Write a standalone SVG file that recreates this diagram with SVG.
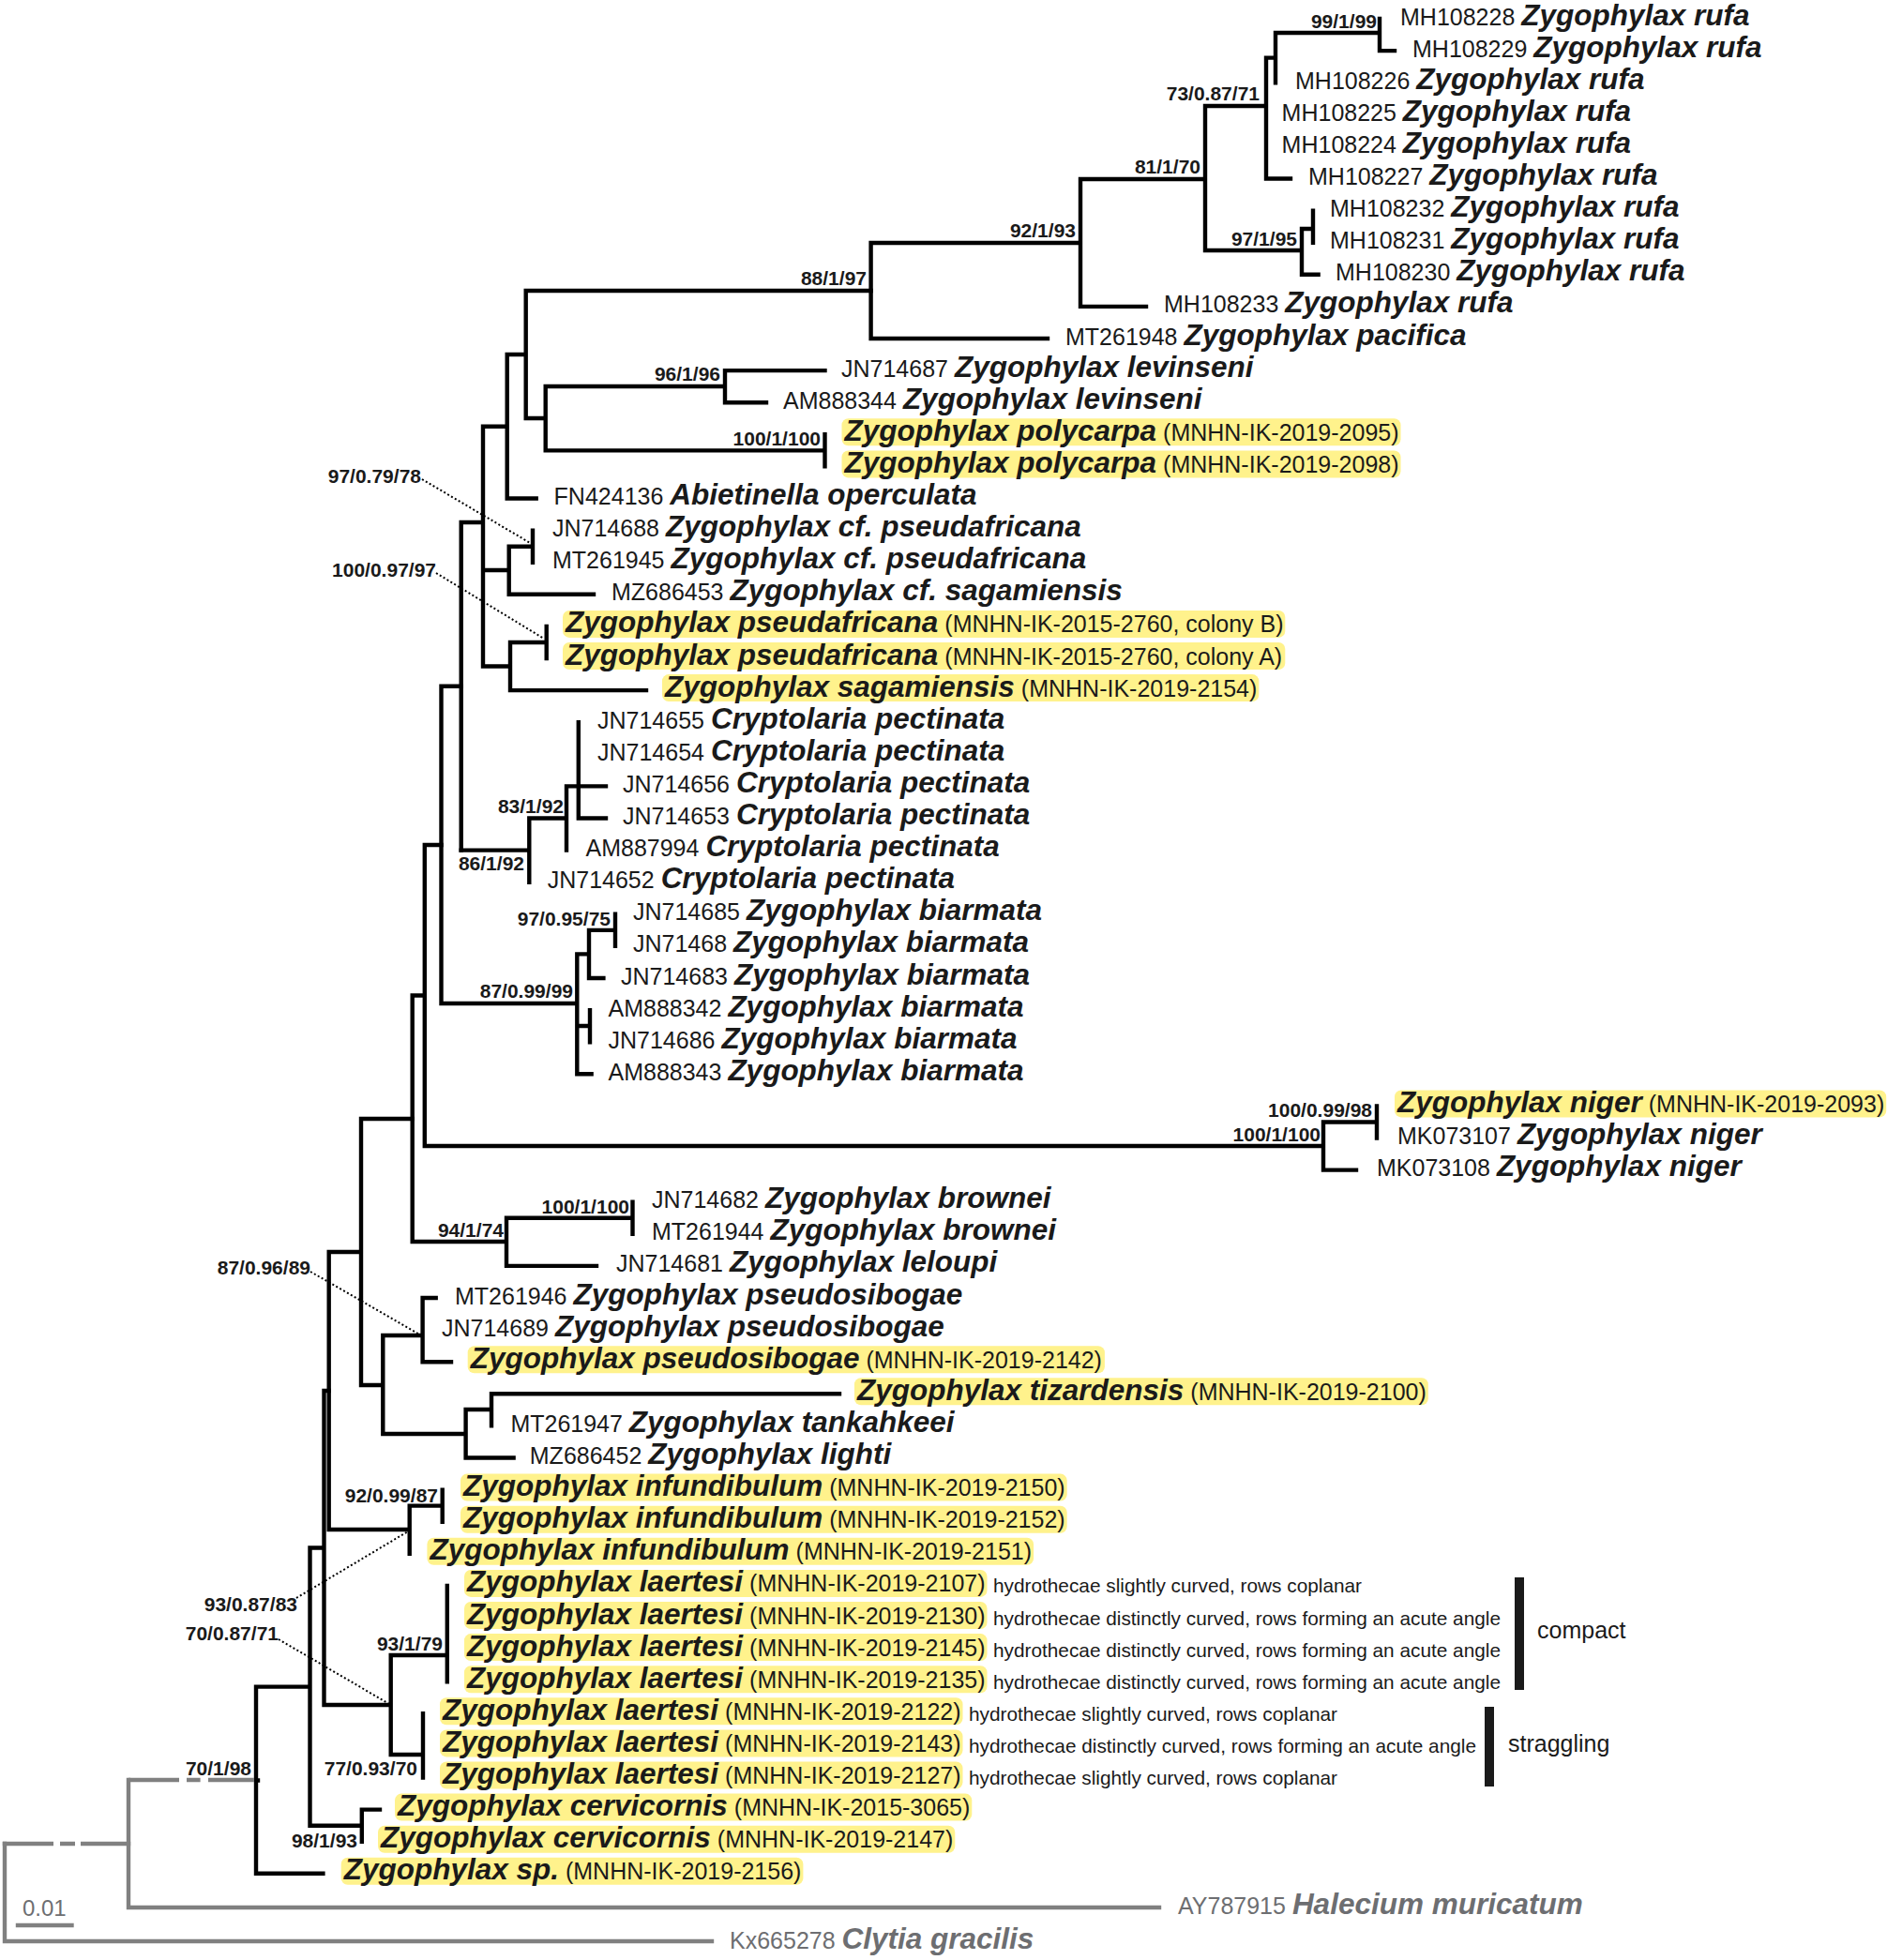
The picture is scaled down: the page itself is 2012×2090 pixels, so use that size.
<svg xmlns="http://www.w3.org/2000/svg" width="2012" height="2090" viewBox="0 0 2012 2090">
<style>
text{font-family:"Liberation Sans",Arial,sans-serif;fill:#1a1a1a}
.n{font-size:25px}
.s{font-size:31.5px;font-weight:bold;font-style:italic}
.b{font-size:21px;font-weight:bold;text-anchor:end}
.d{font-size:20.8px}
.gy{fill:#6d6e71}
.hl{fill:#fff28c}
.br{fill:none;stroke:#000;stroke-width:4.4;stroke-linecap:square}
.gr{fill:none;stroke:#808080;stroke-width:4.4;stroke-linecap:square}
.grd{fill:none;stroke:#808080;stroke-width:4.4;stroke-linecap:butt}
.dot{fill:none;stroke:#000;stroke-width:2;stroke-dasharray:2 2.5}
.bar{fill:#1a1a1a}
</style>
<rect width="2012" height="2090" fill="#fff"/>
<g id="connectors">
<path class="br" d="M1360 35H1471M1471 20V54.1M1471 54.1H1487M1360 35V88.2M1350 61.6H1360M1350 61.6V190.5M1350 190.5H1376M1285 113H1350M1285 113V267M1285 267H1388M1388 244V292.8M1388 244H1400M1400 224.6V258.7M1388 292.8H1405.6M1152 191H1285M1152 191V326.9M1152 326.9H1222M928.6 259H1152M928.6 259V361M928.6 361H1117"/>
<path class="br" d="M560.7 310H928.6M560.7 310V446M560.7 446H581.7M581.7 412V480.4M581.7 412H773M773 395.1V429.2M773 395.1H879.5M773 429.2H817M581.7 480.4H879.5M879.5 463.3V497.4M540.7 378H560.7M540.7 378V531.5M540.7 531.5H571.7M515 454.7H540.7M515 454.7V710.5M515 608H542.7M542.7 582.7V633.8M542.7 582.7H568M568 565.6V599.7M542.7 633.8H633M515 710.5H544M544 685V736.1M544 685H582.7M582.7 667.9V702M544 736.1H689M491.7 557H515M491.7 557V906.6"/>
<path class="br" d="M491.7 906.6H564.3M564.3 872.5V940.7M564.3 872.5H604M604 838.4V906.6M604 838.4H646M616.8 770.2V872.5M616.8 872.5H646M470.5 731.8H491.7M470.5 731.8V1070M470.5 1070H615.3M615.3 1017.4V1145.3M615.3 1017.4H628M628 991.9V1043M628 991.9H656M656 974.8V1008.9M628 1043H643.4M615.3 1094H629M629 1077.1V1111.2M615.3 1145.3H630.6"/>
<path class="br" d="M452.8 901H470.5M452.8 901V1222M452.8 1222H1411M1411 1196.5V1247.6M1411 1196.5H1468M1468 1179.4V1213.5M1411 1247.6H1446M439.7 1061.5H452.8M439.7 1061.5V1324M439.7 1324H540M540 1298.8V1349.9M540 1298.8H674.5M674.5 1281.7V1315.8M540 1349.9H636"/>
<path class="br" d="M385 1193H439.7M385 1193V1477M385 1477H408.3M408.3 1424V1529M408.3 1424H450.6M450.6 1384V1452.2M450.6 1384H464.7M450.6 1452.2H481M408.3 1529H496.6M496.6 1503V1554.5M496.6 1503H524M524 1486.3V1520.4M524 1486.3H895M496.6 1554.5H547.6M350.7 1335H385M350.7 1335V1631M350.7 1631H436.7M436.7 1605.6V1656.8M436.7 1605.6H471.7M471.7 1588.6V1622.7"/>
<path class="br" d="M345.5 1483H350.7M345.5 1483V1818M345.5 1818H416.7M416.7 1765V1871M416.7 1765H476.8M476.8 1690.9V1793.2M416.7 1871H451M451 1827.3V1895.5M330.5 1650.5H345.5M330.5 1650.5V1946.7M330.5 1946.7H385.8M385.8 1929.6V1963.7M385.8 1929.6H405M273 1898.5H275M273 1798.6H330.5M273 1798.6V1997.8M273 1997.8H344.4"/>
<path class="gr" d="M137 1898V2034M137 2034H1236M5 1966V2070M5 2070H759M19 2053H76.5"/>
<path class="grd" d="M137 1898H191M199 1898H213.6M222 1898H271M2.8 1966H57M64 1966H80M86 1966H139.2"/>
<path class="dot" d="M450 511L567 580M465 611L580 681M331 1356L449 1424M316 1704L435 1633M297 1748L416.7 1818"/>
</g>
<g id="support">
<text class="b" x="1468" y="30">99/1/99</text>
<text class="b" x="1343" y="107">73/0.87/71</text>
<text class="b" x="1280" y="185">81/1/70</text>
<text class="b" x="1383" y="262">97/1/95</text>
<text class="b" x="1147" y="253">92/1/93</text>
<text class="b" x="924" y="304">88/1/97</text>
<text class="b" x="768" y="406">96/1/96</text>
<text class="b" x="875" y="475">100/1/100</text>
<text class="b" x="449" y="515">97/0.79/78</text>
<text class="b" x="465" y="615">100/0.97/97</text>
<text class="b" x="601" y="867">83/1/92</text>
<text class="b" x="559" y="928">86/1/92</text>
<text class="b" x="651" y="987">97/0.95/75</text>
<text class="b" x="611" y="1064">87/0.99/99</text>
<text class="b" x="1463" y="1191">100/0.99/98</text>
<text class="b" x="1408" y="1217">100/1/100</text>
<text class="b" x="671" y="1294">100/1/100</text>
<text class="b" x="537" y="1319">94/1/74</text>
<text class="b" x="331" y="1359">87/0.96/89</text>
<text class="b" x="467" y="1602">92/0.99/87</text>
<text class="b" x="317" y="1718">93/0.87/83</text>
<text class="b" x="297" y="1749">70/0.87/71</text>
<text class="b" x="472" y="1760">93/1/79</text>
<text class="b" x="445" y="1893">77/0.93/70</text>
<text class="b" x="381" y="1970">98/1/93</text>
<text class="b" x="268" y="1893">70/1/98</text>
</g>
<g id="n-MH108228"><text class="n" x="1493" y="26.5">MH108228 <tspan class="s">Zygophylax rufa</tspan></text></g>
<g id="n-MH108229"><text class="n" x="1506" y="60.6">MH108229 <tspan class="s">Zygophylax rufa</tspan></text></g>
<g id="n-MH108226"><text class="n" x="1381" y="94.7">MH108226 <tspan class="s">Zygophylax rufa</tspan></text></g>
<g id="n-MH108225"><text class="n" x="1366.6" y="128.8">MH108225 <tspan class="s">Zygophylax rufa</tspan></text></g>
<g id="n-MH108224"><text class="n" x="1366.6" y="162.9">MH108224 <tspan class="s">Zygophylax rufa</tspan></text></g>
<g id="n-MH108227"><text class="n" x="1395" y="197">MH108227 <tspan class="s">Zygophylax rufa</tspan></text></g>
<g id="n-MH108232"><text class="n" x="1418" y="231.1">MH108232 <tspan class="s">Zygophylax rufa</tspan></text></g>
<g id="n-MH108231"><text class="n" x="1418" y="265.2">MH108231 <tspan class="s">Zygophylax rufa</tspan></text></g>
<g id="n-MH108230"><text class="n" x="1424" y="299.3">MH108230 <tspan class="s">Zygophylax rufa</tspan></text></g>
<g id="n-MH108233"><text class="n" x="1241" y="333.4">MH108233 <tspan class="s">Zygophylax rufa</tspan></text></g>
<g id="n-MT261948"><text class="n" x="1136" y="367.5">MT261948 <tspan class="s">Zygophylax pacifica</tspan></text></g>
<g id="n-JN714687"><text class="n" x="897" y="401.6">JN714687 <tspan class="s">Zygophylax levinseni</tspan></text></g>
<g id="n-AM888344"><text class="n" x="835" y="435.7">AM888344 <tspan class="s">Zygophylax levinseni</tspan></text></g>
<g id="n-polycarpa-2095"><rect class="hl" x="897.5" y="446.3" width="596" height="29" rx="7"/><text class="n" x="900.5" y="469.8"><tspan class="s">Zygophylax polycarpa</tspan> (MNHN-IK-2019-2095)</text></g>
<g id="n-polycarpa-2098"><rect class="hl" x="897.5" y="480.4" width="596" height="29" rx="7"/><text class="n" x="900.5" y="503.9"><tspan class="s">Zygophylax polycarpa</tspan> (MNHN-IK-2019-2098)</text></g>
<g id="n-FN424136"><text class="n" x="590.6" y="538">FN424136 <tspan class="s">Abietinella operculata</tspan></text></g>
<g id="n-JN714688"><text class="n" x="589" y="572.1">JN714688 <tspan class="s">Zygophylax cf. pseudafricana</tspan></text></g>
<g id="n-MT261945"><text class="n" x="589" y="606.2">MT261945 <tspan class="s">Zygophylax cf. pseudafricana</tspan></text></g>
<g id="n-MZ686453"><text class="n" x="652" y="640.3">MZ686453 <tspan class="s">Zygophylax cf. sagamiensis</tspan></text></g>
<g id="n-pseudafricana-B"><rect class="hl" x="600" y="650.9" width="770.3" height="29" rx="7"/><text class="n" x="603" y="674.4"><tspan class="s">Zygophylax pseudafricana</tspan> (MNHN-IK-2015-2760, colony B)</text></g>
<g id="n-pseudafricana-A"><rect class="hl" x="600" y="685" width="770.3" height="29" rx="7"/><text class="n" x="603" y="708.5"><tspan class="s">Zygophylax pseudafricana</tspan> (MNHN-IK-2015-2760, colony A)</text></g>
<g id="n-sagamiensis-2154"><rect class="hl" x="706" y="719.1" width="636.3" height="29" rx="7"/><text class="n" x="709" y="742.6"><tspan class="s">Zygophylax sagamiensis</tspan> (MNHN-IK-2019-2154)</text></g>
<g id="n-JN714655"><text class="n" x="637" y="776.7">JN714655 <tspan class="s">Cryptolaria pectinata</tspan></text></g>
<g id="n-JN714654"><text class="n" x="637" y="810.8">JN714654 <tspan class="s">Cryptolaria pectinata</tspan></text></g>
<g id="n-JN714656"><text class="n" x="664" y="844.9">JN714656 <tspan class="s">Cryptolaria pectinata</tspan></text></g>
<g id="n-JN714653"><text class="n" x="664" y="879">JN714653 <tspan class="s">Cryptolaria pectinata</tspan></text></g>
<g id="n-AM887994"><text class="n" x="624.5" y="913.1">AM887994 <tspan class="s">Cryptolaria pectinata</tspan></text></g>
<g id="n-JN714652"><text class="n" x="583.7" y="947.2">JN714652 <tspan class="s">Cryptolaria pectinata</tspan></text></g>
<g id="n-JN714685"><text class="n" x="675" y="981.3">JN714685 <tspan class="s">Zygophylax biarmata</tspan></text></g>
<g id="n-JN71468"><text class="n" x="675" y="1015.4">JN71468 <tspan class="s">Zygophylax biarmata</tspan></text></g>
<g id="n-JN714683"><text class="n" x="662" y="1049.5">JN714683 <tspan class="s">Zygophylax biarmata</tspan></text></g>
<g id="n-AM888342"><text class="n" x="648.5" y="1083.6">AM888342 <tspan class="s">Zygophylax biarmata</tspan></text></g>
<g id="n-JN714686"><text class="n" x="648.5" y="1117.7">JN714686 <tspan class="s">Zygophylax biarmata</tspan></text></g>
<g id="n-AM888343"><text class="n" x="648.5" y="1151.8">AM888343 <tspan class="s">Zygophylax biarmata</tspan></text></g>
<g id="n-niger-2093"><rect class="hl" x="1487" y="1162.4" width="524.2" height="29" rx="7"/><text class="n" x="1490" y="1185.9"><tspan class="s">Zygophylax niger</tspan> (MNHN-IK-2019-2093)</text></g>
<g id="n-MK073107"><text class="n" x="1490" y="1220">MK073107 <tspan class="s">Zygophylax niger</tspan></text></g>
<g id="n-MK073108"><text class="n" x="1468" y="1254.1">MK073108 <tspan class="s">Zygophylax niger</tspan></text></g>
<g id="n-JN714682"><text class="n" x="695" y="1288.2">JN714682 <tspan class="s">Zygophylax brownei</tspan></text></g>
<g id="n-MT261944"><text class="n" x="695" y="1322.3">MT261944 <tspan class="s">Zygophylax brownei</tspan></text></g>
<g id="n-JN714681"><text class="n" x="657" y="1356.4">JN714681 <tspan class="s">Zygophylax leloupi</tspan></text></g>
<g id="n-MT261946"><text class="n" x="485" y="1390.5">MT261946 <tspan class="s">Zygophylax pseudosibogae</tspan></text></g>
<g id="n-JN714689"><text class="n" x="471" y="1424.6">JN714689 <tspan class="s">Zygophylax pseudosibogae</tspan></text></g>
<g id="n-pseudosibogae-2142"><rect class="hl" x="498.7" y="1435.2" width="679.2" height="29" rx="7"/><text class="n" x="501.7" y="1458.7"><tspan class="s">Zygophylax pseudosibogae</tspan> (MNHN-IK-2019-2142)</text></g>
<g id="n-tizardensis-2100"><rect class="hl" x="911" y="1469.3" width="611.8" height="29" rx="7"/><text class="n" x="914" y="1492.8"><tspan class="s">Zygophylax tizardensis</tspan> (MNHN-IK-2019-2100)</text></g>
<g id="n-MT261947"><text class="n" x="544.4" y="1526.9">MT261947 <tspan class="s">Zygophylax tankahkeei</tspan></text></g>
<g id="n-MZ686452"><text class="n" x="564.8" y="1561">MZ686452 <tspan class="s">Zygophylax lighti</tspan></text></g>
<g id="n-infundibulum-2150"><rect class="hl" x="491" y="1571.6" width="646.7" height="29" rx="7"/><text class="n" x="494" y="1595.1"><tspan class="s">Zygophylax infundibulum</tspan> (MNHN-IK-2019-2150)</text></g>
<g id="n-infundibulum-2152"><rect class="hl" x="491" y="1605.7" width="646.7" height="29" rx="7"/><text class="n" x="494" y="1629.2"><tspan class="s">Zygophylax infundibulum</tspan> (MNHN-IK-2019-2152)</text></g>
<g id="n-infundibulum-2151"><rect class="hl" x="455.4" y="1639.8" width="646.7" height="29" rx="7"/><text class="n" x="458.4" y="1663.3"><tspan class="s">Zygophylax infundibulum</tspan> (MNHN-IK-2019-2151)</text></g>
<g id="n-laertesi-2107"><rect class="hl" x="495" y="1673.9" width="557.5" height="29" rx="7"/><text class="n" x="498" y="1697.4"><tspan class="s">Zygophylax laertesi</tspan> (MNHN-IK-2019-2107)</text><text class="d" x="1059" y="1698.4">hydrothecae slightly curved, rows coplanar</text></g>
<g id="n-laertesi-2130"><rect class="hl" x="495" y="1708" width="557.5" height="29" rx="7"/><text class="n" x="498" y="1731.5"><tspan class="s">Zygophylax laertesi</tspan> (MNHN-IK-2019-2130)</text><text class="d" x="1059" y="1732.5">hydrothecae distinctly curved, rows forming an acute angle</text></g>
<g id="n-laertesi-2145"><rect class="hl" x="495" y="1742.1" width="557.5" height="29" rx="7"/><text class="n" x="498" y="1765.6"><tspan class="s">Zygophylax laertesi</tspan> (MNHN-IK-2019-2145)</text><text class="d" x="1059" y="1766.6">hydrothecae distinctly curved, rows forming an acute angle</text></g>
<g id="n-laertesi-2135"><rect class="hl" x="495" y="1776.2" width="557.5" height="29" rx="7"/><text class="n" x="498" y="1799.7"><tspan class="s">Zygophylax laertesi</tspan> (MNHN-IK-2019-2135)</text><text class="d" x="1059" y="1800.7">hydrothecae distinctly curved, rows forming an acute angle</text></g>
<g id="n-laertesi-2122"><rect class="hl" x="469" y="1810.3" width="557.5" height="29" rx="7"/><text class="n" x="472" y="1833.8"><tspan class="s">Zygophylax laertesi</tspan> (MNHN-IK-2019-2122)</text><text class="d" x="1033" y="1834.8">hydrothecae slightly curved, rows coplanar</text></g>
<g id="n-laertesi-2143"><rect class="hl" x="469" y="1844.4" width="557.5" height="29" rx="7"/><text class="n" x="472" y="1867.9"><tspan class="s">Zygophylax laertesi</tspan> (MNHN-IK-2019-2143)</text><text class="d" x="1033" y="1868.9">hydrothecae distinctly curved, rows forming an acute angle</text></g>
<g id="n-laertesi-2127"><rect class="hl" x="469" y="1878.5" width="557.5" height="29" rx="7"/><text class="n" x="472" y="1902"><tspan class="s">Zygophylax laertesi</tspan> (MNHN-IK-2019-2127)</text><text class="d" x="1033" y="1903">hydrothecae slightly curved, rows coplanar</text></g>
<g id="n-cervicornis-3065"><rect class="hl" x="421" y="1912.6" width="615.3" height="29" rx="7"/><text class="n" x="424" y="1936.1"><tspan class="s">Zygophylax cervicornis</tspan> (MNHN-IK-2015-3065)</text></g>
<g id="n-cervicornis-2147"><rect class="hl" x="403" y="1946.7" width="615.3" height="29" rx="7"/><text class="n" x="406" y="1970.2"><tspan class="s">Zygophylax cervicornis</tspan> (MNHN-IK-2019-2147)</text></g>
<g id="n-sp-2156"><rect class="hl" x="363.7" y="1980.8" width="492.7" height="29" rx="7"/><text class="n" x="366.7" y="2004.3"><tspan class="s">Zygophylax sp.</tspan> (MNHN-IK-2019-2156)</text></g>
<g id="n-AY787915"><text class="n gy" x="1256" y="2040.5">AY787915 <tspan class="s gy">Halecium muricatum</tspan></text></g>
<g id="n-Kx665278"><text class="n gy" x="778" y="2078">Kx665278 <tspan class="s gy">Clytia gracilis</tspan></text></g>
<g id="scale"><text class="gy" x="24" y="2043" font-size="24">0.01</text></g>
<g id="bracket-compact"><rect class="bar" x="1615" y="1682" width="10" height="120"/><text class="n" x="1639" y="1747">compact</text></g>
<g id="bracket-straggling"><rect class="bar" x="1583" y="1820" width="10" height="85"/><text class="n" x="1608" y="1868">straggling</text></g>
</svg>
